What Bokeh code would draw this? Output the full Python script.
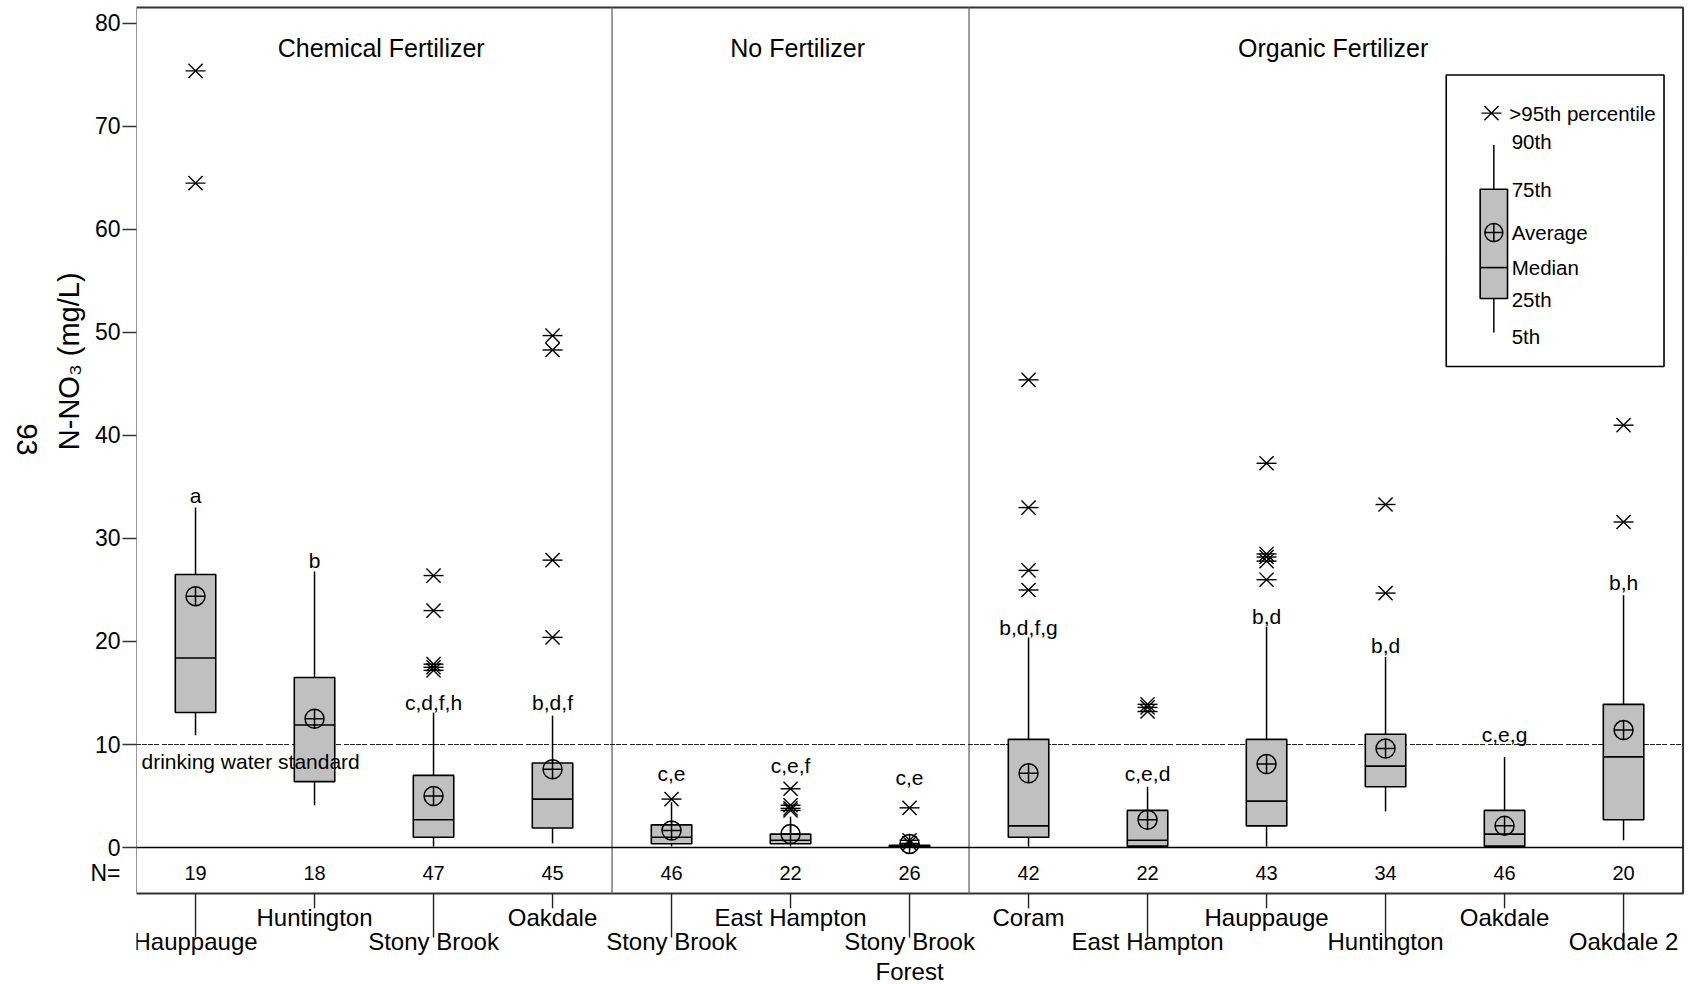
import math
import numpy as np
from bokeh.plotting import figure
from bokeh.layouts import row
from bokeh.models import Range1d, FixedTicker
from bokeh.core.properties import value
from bokeh.embed import file_html
from bokeh.resources import INLINE

# ---------------- data ----------------
categories = ["Hauppauge", "Huntington", "Stony Brook", "Oakdale",
              "Stony Brook", "East Hampton", "Stony Brook\nForest",
              "Coram", "East Hampton", "Hauppauge", "Huntington", "Oakdale", "Oakdale 2"]
groups = ["Chemical Fertilizer"] * 4 + ["No Fertilizer"] * 3 + ["Organic Fertilizer"] * 6
n_values = [19, 18, 47, 45, 46, 22, 26, 42, 22, 43, 34, 46, 20]
p05 = [10.9, 4.1, 0.1, 0.4, 0.1, 0.1, 0.0, 0.1, 0.1, 0.1, 3.5, 0.1, 0.7]
p25 = [13.1, 6.4, 1.0, 1.9, 0.36, 0.36, 0.03, 1.0, 0.13, 2.1, 5.9, 0.13, 2.7]
median = [18.4, 11.9, 2.7, 4.7, 1.0, 0.7, 0.1, 2.1, 0.7, 4.5, 7.9, 1.3, 8.8]
p75 = [26.5, 16.5, 7.0, 8.2, 2.2, 1.3, 0.22, 10.5, 3.6, 10.5, 11.0, 3.6, 13.9]
p90 = [33.0, 26.8, 13.1, 12.8, 4.4, 3.0, 0.5, 20.4, 5.9, 21.4, 18.5, 8.8, 24.5]
mean = [24.4, 12.5, 5.0, 7.6, 1.65, 1.3, 0.35, 7.2, 2.7, 8.1, 9.6, 2.1, 11.4]
outlier_site = [0, 0, 2, 2, 2, 2, 2, 3, 3, 3, 3, 4, 5, 5, 5, 5, 6, 6, 6,
                7, 7, 7, 7, 8, 8, 8, 9, 9, 9, 9, 9, 10, 10, 12, 12]
outlier_value = [75.4, 64.5, 26.4, 23.0, 17.8, 17.5, 17.2, 49.7, 48.3, 27.9, 20.4,
                 4.7, 5.7, 4.1, 3.8, 3.6, 3.85, 0.7, 0.4,
                 45.4, 33.0, 26.9, 25.0, 13.9, 13.6, 13.2,
                 37.3, 28.5, 28.2, 27.8, 26.0, 33.3, 24.7, 41.0, 31.6]
letters = ["a", "b", "c,d,f,h", "b,d,f", "c,e", "c,e,f", "c,e",
           "b,d,f,g", "c,e,d", "b,d", "b,d", "c,e,g", "b,h"]
letter_y = [34.2, 27.9, 14.1, 14.1, 7.2, 8.0, 6.8, 21.4, 7.2, 22.4, 19.6, 11.0, 25.7]
y_ticks = [0, 10, 20, 30, 40, 50, 60, 70, 80]
drinking_water_standard = 10
# legend example distribution
legend_stats = {"p05": 50.0, "p25": 53.3, "median": 56.3, "mean": 59.7,
                "p75": 63.9, "p90": 68.2, "outlier": 71.3}

# ---------------- layout constants ----------------
FONT = "Liberation Sans"
X_LO, X_HI = -0.5, 12.5
Y_TOP, Y_BOT = 81.55, -4.47
N_ROW_Y = -2.52
BOX_W = 0.34
LEFT_W = 86
AXIS_W = 50

xs = np.arange(len(categories), dtype=float)
yr = Range1d(-13.30, 82.23)

# ---------- narrow left strip: axis title and page mark ----------
left = figure(width=LEFT_W, height=984, output_backend="svg", toolbar_location=None,
              x_range=Range1d(0, LEFT_W), y_range=yr, x_axis_location=None,
              y_axis_location=None, min_border=0, outline_line_color=None,
              background_fill_color="white", border_fill_color="white")
left.grid.visible = False
left.text(x=[68.5], y=[47.2], text=["N-NO\u2083 (mg/L)"], angle=math.pi / 2,
          text_align="center", text_baseline="middle", text_font=value(FONT),
          text_font_size="29px", text_color="black")
left.text(x=[26], y=[39.6], text=["93"], angle=-math.pi / 2,
          text_align="center", text_baseline="middle", text_font=value(FONT),
          text_font_size="29px", text_color="black")

# ---------- main chart ----------
p = figure(width=1696 - LEFT_W, height=984, output_backend="svg", toolbar_location=None,
           x_range=Range1d(-0.496, 12.613), y_range=yr,
           x_axis_location=None, min_border_left=AXIS_W, min_border_right=0,
           min_border_top=0, min_border_bottom=0, outline_line_color=None,
           background_fill_color="white", border_fill_color="white")
p.grid.visible = False

ax = p.yaxis[0]
ax.ticker = FixedTicker(ticks=[N_ROW_Y] + y_ticks, minor_ticks=y_ticks)
ax.major_label_overrides = {N_ROW_Y: "N="}
ax.bounds = (N_ROW_Y, 80)
ax.axis_line_color = None
ax.major_tick_out = 0
ax.major_tick_in = 0
ax.major_tick_line_color = None
ax.minor_tick_out = 14
ax.minor_tick_in = 0
ax.minor_tick_line_color = "#333333"
ax.minor_tick_line_width = 1.5
ax.major_label_text_font = FONT
ax.major_label_text_font_size = "23px"
ax.major_label_text_color = "black"
ax.major_label_standoff = 2

# frame, separators, reference lines
p.quad(left=[X_LO], right=[X_HI], bottom=[Y_BOT], top=[Y_TOP], fill_color=None,
       line_color="#333333", line_width=2)
sep_x = [i - 0.5 for i in range(1, len(groups)) if groups[i] != groups[i - 1]]
p.segment(x0=sep_x, y0=[Y_BOT] * len(sep_x), x1=sep_x, y1=[Y_TOP] * len(sep_x),
          line_color="#666666", line_width=1.3)
p.segment(x0=[X_LO], y0=[0], x1=[X_HI], y1=[0], line_color="black", line_width=1.6)
p.segment(x0=[X_LO], y0=[drinking_water_standard], x1=[X_HI], y1=[drinking_water_standard],
          line_color="#222222", line_width=1.2, line_dash="5 1 5 1 5 1 5 3")

# whiskers
p.segment(x0=xs, y0=p75, x1=xs, y1=p90, line_color="black", line_width=1.5)
p.segment(x0=xs, y0=p05, x1=xs, y1=p25, line_color="black", line_width=1.5)
# boxes
p.vbar(x=xs, width=BOX_W, bottom=p25, top=p75, fill_color="#c0c0c0",
       line_color="black", line_width=1.6)
p.segment(x0=xs - BOX_W / 2, y0=median, x1=xs + BOX_W / 2, y1=median,
          line_color="black", line_width=1.6)
# means
p.scatter(x=xs, y=mean, marker="circle_cross", size=19, fill_color=None,
          line_color="black", line_width=1.5)
# outliers (six-spoke star: x + horizontal dash)
p.scatter(x=outlier_site, y=outlier_value, marker="x", size=20,
          line_color="black", line_width=1.4)
p.scatter(x=outlier_site, y=outlier_value, marker="dash", size=20,
          line_color="black", line_width=1.4)

p.text(x=[-0.454], y=[drinking_water_standard - 1.65], text=["drinking water standard"],
       text_align="left", text_baseline="middle", text_font=value(FONT),
       text_font_size="21px", text_color="black")

# significance letters
p.text(x=xs, y=letter_y, text=letters, text_align="center", text_baseline="middle",
       text_font=value(FONT), text_font_size="21px", text_color="black")
# N row
p.text(x=xs, y=[N_ROW_Y] * len(xs), text=[str(n) for n in n_values], text_align="center",
       text_baseline="middle", text_font=value(FONT), text_font_size="20px", text_color="black")

# category labels and leader lines (alternating levels)
lower = [i % 2 == 0 for i in range(len(categories))]
line_end = [-8.74 if lo else -5.9 for lo in lower]
label_top = [-7.85 if lo else -5.45 for lo in lower]
p.segment(x0=xs, y0=[Y_BOT] * len(xs), x1=xs, y1=line_end, line_color="#222222", line_width=1.4)
p.text(x=xs, y=label_top, text=categories, text_align="center", text_baseline="top",
       text_font=value(FONT), text_font_size="24px", text_color="black", text_line_height=1.1)

# group titles
gnames = []
gcenters = []
for g in dict.fromkeys(groups):
    idx = [i for i, gg in enumerate(groups) if gg == g]
    gnames.append(g)
    gcenters.append((idx[0] + idx[-1]) / 2 + 0.06)
p.text(x=gcenters, y=[77.6] * len(gnames), text=gnames, text_align="center",
       text_baseline="middle", text_font=value(FONT), text_font_size="25px", text_color="black")

# legend
LX = 10.91
LBW = 0.23
p.quad(left=[10.51], right=[12.34], bottom=[46.7], top=[75.0], fill_color="white",
       line_color="black", line_width=1.6)
p.segment(x0=[LX, LX], y0=[legend_stats["p75"], legend_stats["p05"]],
          x1=[LX, LX], y1=[legend_stats["p90"], legend_stats["p25"]],
          line_color="black", line_width=1.5)
p.quad(left=[LX - LBW / 2], right=[LX + LBW / 2], bottom=[legend_stats["p25"]],
       top=[legend_stats["p75"]], fill_color="#c0c0c0", line_color="black", line_width=1.6)
p.segment(x0=[LX - LBW / 2], y0=[legend_stats["median"]], x1=[LX + LBW / 2],
          y1=[legend_stats["median"]], line_color="black", line_width=1.6)
p.scatter(x=[LX], y=[legend_stats["mean"]], marker="circle_cross", size=18, fill_color=None,
          line_color="black", line_width=1.5)
p.scatter(x=[LX - 0.02], y=[legend_stats["outlier"]], marker="x", size=20,
          line_color="black", line_width=1.4)
p.scatter(x=[LX - 0.02], y=[legend_stats["outlier"]], marker="dash", size=20,
          line_color="black", line_width=1.4)
leg_text = [">95th percentile", "90th", "75th", "Average", "Median", "25th", "5th"]
leg_y = [legend_stats["outlier"], 68.5, 63.9, legend_stats["mean"], legend_stats["median"], 53.2, 49.6]
leg_x = [11.04, 11.06, 11.06, 11.06, 11.06, 11.06, 11.06]
p.text(x=leg_x, y=leg_y, text=leg_text, text_align="left", text_baseline="middle",
       text_font=value(FONT), text_font_size="20.5px", text_color="black")

layout = row(left, p, spacing=0)
open("out.html", "w").write(file_html(layout, INLINE))
